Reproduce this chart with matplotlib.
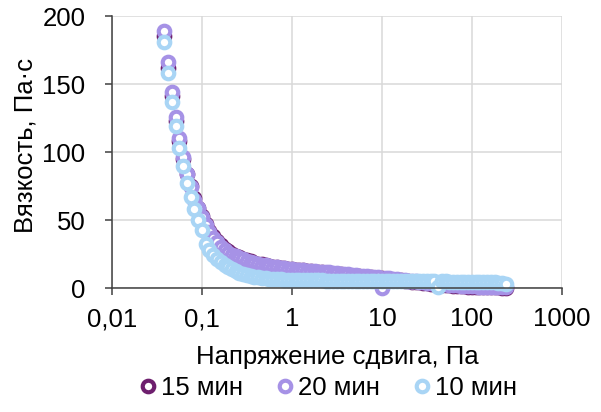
import matplotlib
matplotlib.use('Agg')
import matplotlib.pyplot as plt

plt.rcParams['font.family'] = ['Liberation Sans', 'DejaVu Sans']
FS = 18.5

# shear stress, Pa (log ramp, 24 points per decade)
stress = [
    0.0383, 0.0422, 0.0464, 0.0511, 0.0562, 0.0619, 0.0681, 0.0750, 0.0825, 0.0909,
    0.100, 0.110, 0.121, 0.133, 0.147, 0.162, 0.178, 0.196, 0.215, 0.237, 0.261, 0.287,
    0.316, 0.348, 0.383, 0.422, 0.464, 0.511, 0.562, 0.619, 0.681, 0.750, 0.825, 0.909,
    1.00, 1.10, 1.21, 1.33, 1.47, 1.62, 1.78, 1.96, 2.15, 2.37, 2.61, 2.87,
    3.16, 3.48, 3.83, 4.22, 4.64, 5.11, 5.62, 6.19, 6.81, 7.50, 8.25, 9.09,
    10.0, 11.0, 12.1, 13.3, 14.7, 16.2, 17.8, 19.6, 21.5, 23.7, 26.1, 28.7,
    31.6, 34.8, 38.3, 42.2, 46.4, 51.1, 56.2, 61.9, 68.1, 75.0, 82.5, 90.9,
    100, 110, 121, 133, 147, 162, 178, 196, 215, 237,
]

# viscosity, Pa*s
visc_15 = [
    185, 162, 141, 123, 108, 95, 84, 75, 66, 59,
    53, 47, 42, 38, 34.5, 31.5, 29, 27, 25.3, 23.8, 22.5, 21.4,
    20.4, 19.5, 18.7, 18.0, 17.4, 16.8, 16.3, 15.8, 15.3, 14.9, 14.5, 14.2,
    13.9, 13.6, 13.3, 13.0, 12.7, 12.4, 12.1, 11.8, 11.5, 11.2, 10.9, 10.6,
    10.3, 10.0, 9.7, 9.4, 9.1, 8.8, 8.5, 8.2, 8.0, 7.8, 7.6, 7.4,
    7.1, 6.8, 6.5, 6.2, 5.9, 5.6, 5.3, 5.0, 4.7, 4.4, 4.1, 3.8,
    3.5, 3.2, 2.9, 2.6, 2.4, 2.2, 2.0, 1.8, 1.6, 1.4, 1.2, 1.1,
    1.0, 0.9, 0.8, 0.7, 0.6, 0.5, 0.4, 0.4, 0.3, 0.3,
]
visc_20 = [
    189, 166, 144, 126, 110, 96, 84, 74, 65, 59,
    52, 46, 41, 37, 33.5, 30.5, 28, 26, 24.5, 23.2, 22, 21,
    20, 19.2, 18.5, 17.8, 17.2, 16.6, 16.1, 15.6, 15.2, 14.8, 14.4, 14.1,
    13.8, 13.5, 13.3, 13.0, 12.8, 12.5, 12.3, 12.1, 11.9, 11.7, 11.5, 11.2,
    10.9, 10.6, 10.3, 10.0, 9.7, 9.4, 9.1, 8.8, 8.6, 8.4, 8.2, 8.0,
    0.3, 7.3, 7.0, 6.7, 6.4, 6.1, 5.8, 5.5, 5.2, 4.9, 4.6, 4.3,
    4.0, 3.7, 3.4, 3.1, 2.8, 2.6, 2.4, 2.2, 2.0, 1.8, 1.6, 1.4,
    1.3, 1.2, 1.1, 1.0, 0.9, 0.8, 0.7, 0.6, 0.5, 0.4,
]
visc_10 = [
    181, 158, 137, 119, 103, 90, 77, 67, 58, 50,
    43, 32, 28, 24.5, 21.5, 19, 17, 15.3, 13.8, 12.5, 11.3, 10.3,
    9.5, 8.8, 8.2, 7.8, 7.4, 7.1, 6.8, 6.6, 6.4, 6.3, 6.2, 6.1,
    6.0, 5.9, 5.9, 5.8, 5.8, 5.7, 5.7, 5.6, 5.6, 5.5, 5.5, 5.5,
    5.4, 5.4, 5.4, 5.3, 5.3, 5.3, 5.2, 5.2, 5.2, 5.1, 5.1, 5.1,
    5.0, 5.0, 5.0, 5.0, 4.9, 4.9, 4.9, 4.9, 4.9, 4.8, 4.8, 4.8,
    4.8, 4.8, 4.8, 1.0, 4.8, 4.8, 4.7, 4.7, 4.7, 4.7, 4.7, 4.7,
    4.7, 4.6, 4.6, 4.5, 4.5, 4.4, 4.2, 3.9, 3.5, 3.0,
]

labels = ['15 мин', '20 мин', '10 мин']
colors = ['#6E1F6E', '#A692E6', '#A9D5F5']
xticks = [0.01, 0.1, 1, 10, 100, 1000]
xticklabels = ['0,01', '0,1', '1', '10', '100', '1000']
yticks = [0, 50, 100, 150, 200]

fig = plt.figure(figsize=(6.01, 4.12), dpi=100)
ax = fig.add_axes([112 / 601, 1 - 288 / 412, 450 / 601, 272 / 412])

for v, lab, c in zip([visc_15, visc_20, visc_10], labels, colors):
    ax.plot(stress, v, ls='none', marker='o', ms=8.3, mew=3.0,
            mec=c, mfc='white', label=lab, clip_on=False)

ax.set_xscale('log')
ax.set_xlim(0.01, 1000)
ax.set_ylim(0, 200)
ax.set_xticks(xticks)
ax.set_xticklabels(xticklabels)
ax.xaxis.set_minor_locator(matplotlib.ticker.NullLocator())
ax.set_yticks(yticks)

ax.grid(True, color='#d9d9d9', lw=1.1)
ax.set_axisbelow(True)
for s in ['top', 'right']:
    ax.spines[s].set_visible(False)
for s in ['left', 'bottom']:
    ax.spines[s].set_color('#404040')
    ax.spines[s].set_linewidth(1.1)
ax.tick_params(axis='both', direction='out', length=5, width=1.1,
               color='#404040', labelsize=FS, labelcolor='black')
ax.tick_params(axis='x', pad=9)
ax.tick_params(axis='y', pad=14)

ax.set_xlabel('Напряжение сдвига, Па', fontsize=FS)
ax.set_ylabel('Вязкость, Па·с', fontsize=FS)
ax.xaxis.set_label_coords(0.5, -0.21)
ax.yaxis.set_label_coords(-0.165, 0.525)

fig.legend(loc='center', bbox_to_anchor=(328 / 601, 1 - 388 / 412), ncol=3,
           frameon=False, fontsize=FS, handlelength=0.7, handletextpad=0.15,
           columnspacing=1.3, borderaxespad=0)

fig.savefig('out.png', dpi=100)
